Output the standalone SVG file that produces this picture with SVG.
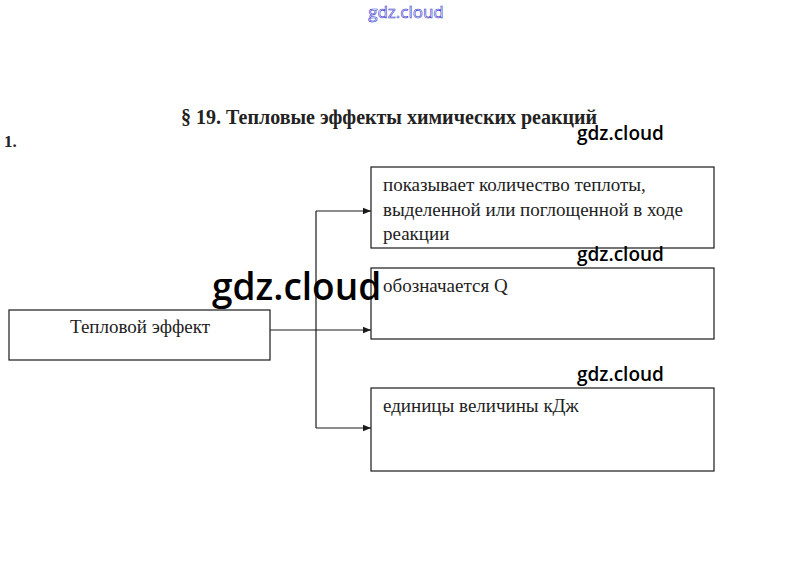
<svg xmlns="http://www.w3.org/2000/svg" width="812" height="586" viewBox="0 0 812 586">
<style>
.box{fill:#fff;stroke:#1a1a1a;stroke-width:1.2}
.t{font-family:"Liberation Serif",serif;font-size:19px;fill:#222}
.wm{font-family:"Open Sans","Noto Sans",sans-serif;font-weight:600;fill:#000}
.conn{fill:none;stroke:#1a1a1a;stroke-width:1.2}
</style>
<defs>
<marker id="arr" viewBox="0 0 10 10" refX="10" refY="5" markerWidth="8" markerHeight="8" markerUnits="userSpaceOnUse" orient="auto">
<path d="M0,1 L10,5 L0,9 z" fill="#1a1a1a"/>
</marker>
</defs>
<rect width="812" height="586" fill="#fff"/>
<text x="406" y="18" text-anchor="middle" font-family="'Open Sans','Noto Sans',sans-serif" font-size="17" fill="#fff" stroke="#3333cc" stroke-width="0.6">gdz.cloud</text>
<text x="389" y="124" text-anchor="middle" font-family="'Liberation Serif',serif" font-weight="bold" font-size="20" fill="#222">§ 19. Тепловые эффекты химических реакций</text>
<text x="4" y="147" font-family="'Liberation Serif',serif" font-weight="bold" font-size="17" fill="#222">1.</text>
<g id="connectors">
<path class="conn" d="M270,330 L371,330" marker-end="url(#arr)"/>
<path class="conn" d="M316,211 L316,428"/>
<path class="conn" d="M316,211 L371,211" marker-end="url(#arr)"/>
<path class="conn" d="M316,428 L371,428" marker-end="url(#arr)"/>
</g>
<g id="node-effect">
<rect class="box" x="9" y="310" width="261" height="50"/>
<text class="t" x="140" y="333" text-anchor="middle">Тепловой эффект</text>
</g>
<g id="node-shows">
<rect class="box" x="371" y="167" width="343" height="81"/>
<text class="t" x="383" y="191">показывает количество теплоты,</text>
<text class="t" x="383" y="216">выделенной или поглощенной в ходе</text>
<text class="t" x="383" y="240">реакции</text>
</g>
<g id="node-denoted">
<rect class="box" x="371" y="268" width="343" height="71"/>
<text class="t" x="383" y="292">обозначается Q</text>
</g>
<g id="node-units">
<rect class="box" x="371" y="388" width="343" height="83"/>
<text class="t" x="383" y="412">единицы величины кДж</text>
</g>
<g id="watermarks">
<text class="wm" x="577" y="140" font-size="19">gdz.cloud</text>
<text class="wm" x="577" y="261" font-size="19">gdz.cloud</text>
<text class="wm" x="577" y="381" font-size="19">gdz.cloud</text>
<text class="wm" x="212" y="300" font-size="37">gdz.cloud</text>
</g>
</svg>
